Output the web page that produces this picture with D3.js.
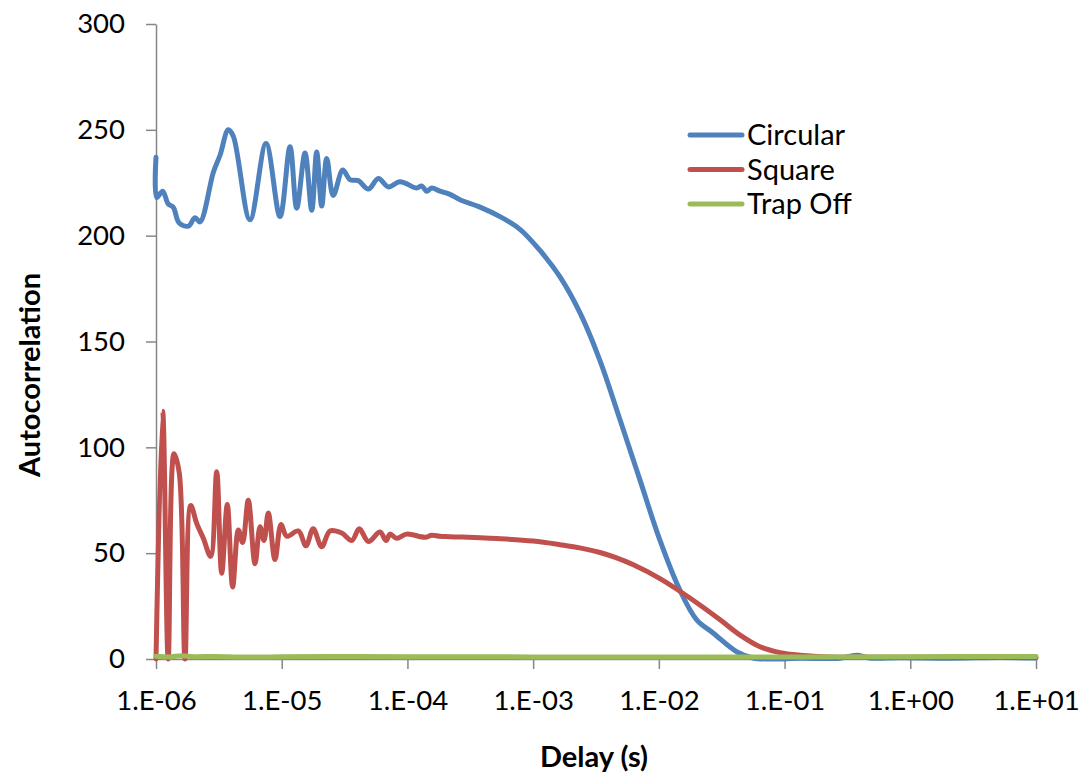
<!DOCTYPE html>
<html>
<head>
<meta charset="utf-8">
<script src="https://cdn.jsdelivr.net/npm/d3@7"></script>
<style>
  html, body { margin: 0; padding: 0; background: #fff; }
  svg { display: block; }
  text { font-family: Lato, "Open Sans", sans-serif; fill: #000; }
</style>
</head>
<body>
<svg id="chart" width="1084" height="778"></svg>
<script>
// ---- data ----
const seriesNames = ["Circular", "Square", "Trap Off"];
const seriesColors = ["#4F81BD", "#C0504D", "#9BBB59"];

// Circular: delay (s) and autocorrelation
const circularDelay = [1e-6, 1.013e-6, 1.13e-6, 1.25e-6, 1.37e-6, 1.53e-6, 1.81e-6, 2.04e-6, 2.24e-6, 2.86e-6, 3.23e-6, 3.76e-6, 4.12e-6, 5.59e-6, 7.5e-6, 9.69e-6, 1.164e-5, 1.316e-5, 1.532e-5, 1.733e-5, 1.898e-5, 2.08e-5, 2.28e-5, 2.57e-5, 3.06e-5, 3.49e-5, 4.07e-5, 4.89e-5, 5.87e-5, 7.05e-5, 8.73e-5, 1.185e-4, 1.299e-4, 1.423e-4, 1.56e-4, 1.816e-4, 2.18e-4, 2.62e-4, 3.78e-4, 5.45e-4, 7.86e-4, 1.134e-3, 1.636e-3, 2.36e-3, 3.40e-3, 4.91e-3, 7.08e-3, 1.021e-2, 1.47e-2, 2.0e-2, 2.70e-2, 4.19e-2, 5.61e-2, 7.66e-2, 0.133, 0.276, 0.384, 0.47, 0.83, 2.07, 5.18, 10];
const circularValue = [237, 218, 221, 215, 213.5, 206, 204.5, 208.5, 206.5, 230, 238, 250, 247, 207.5, 243.5, 209, 242, 213, 239, 212, 239.5, 214, 236.5, 219, 231, 226.5, 226, 222, 227, 223, 225.5, 222.5, 223.5, 221, 222.5, 221, 219.5, 217, 213.5, 209, 203, 193, 180.5, 163.5, 141, 113, 84.5, 56, 32.5, 18.5, 12.3, 3.3, 0.5, 0, 0.3, 0.4, 1.8, 0.5, 0.6, 0.4, 0.7, 0.5];

// Square
const squareDelay = [1e-6, 1.13e-6, 1.25e-6, 1.39e-6, 1.53e-6, 1.70e-6, 1.89e-6, 2.11e-6, 2.38e-6, 2.72e-6, 3.04e-6, 3.33e-6, 3.69e-6, 4.07e-6, 4.52e-6, 4.89e-6, 5.42e-6, 6.13e-6, 6.72e-6, 7.23e-6, 7.82e-6, 8.84e-6, 9.87e-6, 1.096e-5, 1.355e-5, 1.56e-5, 1.78e-5, 2.08e-5, 2.42e-5, 3.00e-5, 3.61e-5, 4.14e-5, 4.89e-5, 6.05e-5, 6.76e-5, 7.27e-5, 8.22e-5, 9.87e-5, 1.38e-4, 1.56e-4, 1.816e-4, 2.18e-4, 5.45e-4, 1e-3, 1.636e-3, 2.4e-3, 3.40e-3, 4.5e-3, 6.27e-3, 1.021e-2, 1.47e-2, 2.12e-2, 3.07e-2, 4.43e-2, 6.38e-2, 9.21e-2, 0.133, 0.23, 0.83, 5.18, 10];
const squareValue = [0, 117, 0, 97, 88, 0, 72.5, 64, 57, 48.5, 88.5, 40.5, 73, 34, 61, 55, 75, 45, 62.5, 56, 69, 47, 63.5, 58, 60.5, 53.5, 61.5, 53, 60.5, 59.5, 56, 61.5, 55.5, 60, 56, 59, 57, 59, 57.5, 58.5, 58, 57.8, 56.8, 55.7, 54, 52.4, 50.3, 48, 44.5, 38, 32, 25.5, 18.5, 11.3, 5.8, 3, 1.8, 1.0, 0.8, 0.8, 0.7];

// Trap Off
const trapOffDelay = [1e-6, 1.3e-6, 1.6e-6, 2e-6, 3e-6, 5e-6, 1e-5, 3e-5, 1e-4, 1e-3, 1e-2, 1e-1, 1, 10];
const trapOffValue = [1.3, 1.0, 1.5, 1.1, 1.2, 0.9, 1.1, 1.2, 1.1, 1.0, 1.0, 1.0, 1.1, 1.2];

// axes
const xTickValues = [1e-6, 1e-5, 1e-4, 1e-3, 1e-2, 1e-1, 1, 10];
const xTickLabels = ["1.E-06", "1.E-05", "1.E-04", "1.E-03", "1.E-02", "1.E-01", "1.E+00", "1.E+01"];
const yTickValues = [0, 50, 100, 150, 200, 250, 300];
const xTitle = "Delay (s)";
const yTitle = "Autocorrelation";

// ---- drawing ----
const svg = d3.select("#chart");
const plotLeft = 156, plotRight = 1036, plotTop = 24, plotBottom = 659;

const x = d3.scaleLog().domain([1e-6, 10]).range([plotLeft, plotRight]);
const y = d3.scaleLinear().domain([0, 300]).range([plotBottom, plotTop]);

const axisColor = "#868686";

const yAxis = svg.append("g")
  .attr("transform", `translate(${plotLeft},0)`)
  .call(d3.axisLeft(y).tickValues(yTickValues).tickSize(10).tickPadding(21).tickSizeOuter(0));
const xAxis = svg.append("g")
  .attr("transform", `translate(0,${plotBottom})`)
  .call(d3.axisBottom(x).tickValues(xTickValues).tickFormat((d, i) => xTickLabels[i]).tickSize(10).tickPadding(21).tickSizeOuter(0));

[xAxis, yAxis].forEach(g => {
  g.select(".domain").attr("stroke", axisColor).attr("stroke-width", 1.5);
  g.selectAll(".tick line").attr("stroke", axisColor).attr("stroke-width", 1.5);
  g.selectAll(".tick text").attr("fill", "#000").style("font-size", "27.5px").style("font-family", "Lato, sans-serif");
});

const allSeries = [
  { name: seriesNames[0], color: seriesColors[0], pts: circularDelay.map((d, i) => [d, circularValue[i]]) },
  { name: seriesNames[1], color: seriesColors[1], pts: squareDelay.map((d, i) => [d, squareValue[i]]) },
  { name: seriesNames[2], color: seriesColors[2], pts: trapOffDelay.map((d, i) => [d, trapOffValue[i]]) }
];

const line = d3.line()
  .x(d => x(d[0]))
  .y(d => y(d[1]))
  .curve(d3.curveCatmullRom.alpha(0.5));

svg.append("g").selectAll("path")
  .data(allSeries)
  .join("path")
  .attr("d", s => line(s.pts))
  .attr("fill", "none")
  .attr("stroke", s => s.color)
  .attr("stroke-width", 5)
  .attr("stroke-linejoin", "round")
  .attr("stroke-linecap", "round");

// axis titles
svg.append("text")
  .attr("transform", `translate(40,375) rotate(-90)`)
  .attr("text-anchor", "middle")
  .style("font-size", "29px").style("font-weight", "bold")
  .text(yTitle);

svg.append("text")
  .attr("x", 594).attr("y", 767)
  .attr("text-anchor", "middle")
  .style("font-size", "29px").style("font-weight", "bold")
  .text(xTitle);

// legend
const legend = svg.append("g");
const legY = [135, 169.5, 204];
allSeries.forEach((s, i) => {
  legend.append("line")
    .attr("x1", 690).attr("x2", 742)
    .attr("y1", legY[i]).attr("y2", legY[i])
    .attr("stroke", s.color).attr("stroke-width", 5).attr("stroke-linecap", "round");
  legend.append("text")
    .attr("x", 747).attr("y", legY[i] + 10)
    .style("font-size", "29px")
    .text(s.name);
});
</script>
</body>
</html>
